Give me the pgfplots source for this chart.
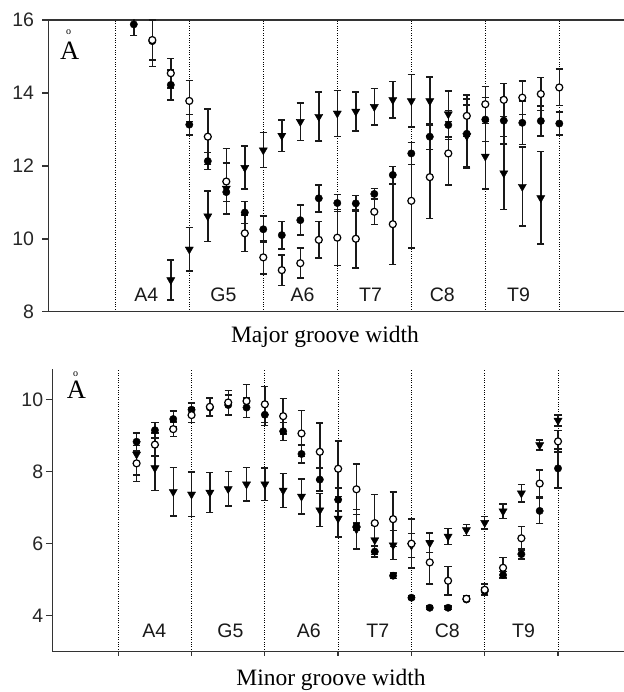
\documentclass[border=0pt]{standalone}
\usepackage{fontspec}
\setmainfont{Liberation Serif}
\setsansfont{Liberation Sans}
\usepackage{pgfplots}
\pgfplotsset{compat=1.18}
\usepackage{pgfplotstable}

% ---------- Major groove width ----------
\pgfplotstableread{
x y e
1.75 8.87 0.55
2.00 9.71 0.60
2.25 10.62 0.69
2.50 11.38 0.70
2.75 11.95 0.59
3.00 12.43 0.48
3.25 12.83 0.43
3.50 13.21 0.51
3.75 13.35 0.67
4.00 13.44 0.63
4.25 13.49 0.53
4.50 13.62 0.50
4.75 13.81 0.50
5.00 13.78 0.72
5.25 13.78 0.66
5.50 13.42 0.63
5.75 12.82 0.85
6.00 12.26 0.90
6.25 11.80 1.00
6.50 11.43 1.08
6.75 11.12 1.27
}\majtri
\pgfplotstableread{
x y e
1.25 15.88 0.30
1.50 15.42 0.70
1.75 14.22 0.41
2.00 13.13 0.28
2.25 12.13 0.23
2.50 11.28 0.26
2.75 10.72 0.30
3.00 10.26 0.36
3.25 10.10 0.38
3.50 10.51 0.41
3.75 11.11 0.37
4.00 10.98 0.23
4.25 10.97 0.21
4.50 11.23 0.15
4.75 11.75 0.23
5.00 12.34 0.30
5.25 12.80 0.35
5.50 13.12 0.40
5.75 12.88 0.95
6.00 13.27 0.60
6.25 13.24 0.64
6.50 13.18 0.60
6.75 13.23 0.41
7.00 13.16 0.31
}\majfill
\pgfplotstableread{
x y e
1.50 15.45 0.55
1.75 14.54 0.41
2.00 13.78 0.56
2.25 12.80 0.76
2.50 11.57 0.90
2.75 10.15 0.50
3.00 9.49 0.45
3.25 9.14 0.42
3.50 9.33 0.41
3.75 9.97 0.50
4.00 10.03 0.77
4.25 10.00 0.80
4.50 10.74 0.35
4.75 10.40 1.10
5.00 11.04 1.30
5.25 11.69 1.13
5.50 12.34 0.87
5.75 13.37 0.57
6.00 13.69 0.48
6.25 13.81 0.45
6.50 13.87 0.46
6.75 13.97 0.45
7.00 14.15 0.50
}\majopen

% ---------- Minor groove width ----------
\pgfplotstableread{
x y e
1.25 8.48 0.58
1.50 8.10 0.62
1.75 7.44 0.67
2.00 7.37 0.62
2.25 7.42 0.55
2.50 7.52 0.48
2.75 7.65 0.47
3.00 7.65 0.45
3.25 7.48 0.47
3.50 7.31 0.48
3.75 6.93 0.46
4.00 6.70 0.52
4.25 6.40 0.55
4.50 6.10 0.40
4.75 5.96 0.40
5.00 5.95 0.33
5.25 6.02 0.27
5.50 6.20 0.22
5.75 6.38 0.15
6.00 6.58 0.17
6.25 6.90 0.20
6.50 7.40 0.24
6.75 8.74 0.14
7.00 9.42 0.15
}\mintri
\pgfplotstableread{
x y e
1.25 8.83 0.26
1.50 9.15 0.22
1.75 9.46 0.22
2.00 9.72 0.18
2.25 9.78 0.25
2.50 9.85 0.28
2.75 9.78 0.27
3.00 9.58 0.30
3.25 9.12 0.25
3.50 8.49 0.25
3.75 7.78 0.32
4.00 7.22 0.32
4.25 6.48 0.10
4.50 5.78 0.15
4.75 5.11 0.08
5.00 4.50 0.05
5.25 4.22 0.05
5.50 4.22 0.05
5.75 4.45 0.06
6.00 4.68 0.10
6.25 5.13 0.10
6.50 5.71 0.14
6.75 6.91 0.35
7.00 8.09 0.54
}\minfill
\pgfplotstableread{
x y e
1.25 8.23 0.50
1.50 8.75 0.32
1.75 9.18 0.20
2.00 9.57 0.20
2.25 9.80 0.24
2.50 9.92 0.33
2.75 9.96 0.46
3.00 9.87 0.50
3.25 9.54 0.49
3.50 9.06 0.64
3.75 8.55 0.80
4.00 8.08 0.77
4.25 7.51 0.70
4.50 6.57 0.80
4.75 6.68 0.76
5.00 6.00 0.68
5.25 5.48 0.60
5.50 4.97 0.40
5.75 4.47 0.08
6.00 4.72 0.16
6.25 5.33 0.28
6.50 6.15 0.32
6.75 7.67 0.37
7.00 8.84 0.30
}\minopen

\tikzset{
  catlab/.style={font=\fontsize{19.5}{19.5}\selectfont\sffamily, anchor=base, inner sep=0pt, black!90},
}
\pgfplotsset{
  grooveaxis/.style={
    scale only axis, xmin=0.1, xmax=8,
    axis y line*=left,
    axis line style={line width=1.5pt, black!80},
    xtick={1,2,3,4,5,6,7}, xticklabels={},
    xmajorgrids, major grid style={dotted, line width=0.9pt, black},
    tick align=outside,
    ytick style={line width=1.5pt, black!80},
    major tick length=6.5pt,
    tick label style={font=\fontsize{19.5}{19.5}\selectfont\sffamily, black!85},
    /pgf/number format/assume math mode=true,
  },
  ebars/.style={error bars/.cd, y dir=both, y explicit,
    error bar style={line width=1.4pt, black!90},
    error mark options={rotate=90, line width=1.5pt, mark size=3.6pt, black!90}},
  tri/.style={only marks, mark=triangle*, mark size=4.7pt,
    mark options={fill=black, draw=black, rotate=180}, ebars},
  fil/.style={only marks, mark=*, mark size=3.7pt,
    mark options={fill=black, draw=black}, ebars},
  opn/.style={only marks, mark=*, mark size=3.5pt,
    mark options={fill=white, draw=black, line width=1.2pt}, ebars},
}

\begin{document}
\begin{tikzpicture}
\path[use as bounding box] (0,0) rectangle (623pt,692pt);

% ===== top panel =====
\begin{axis}[grooveaxis,
  at={(48.7pt,380.3pt)}, anchor=south west,
  width=584.6pt, height=291.7pt,
  ymin=8, ymax=16, ytick={8,10,12,14,16},
  yticklabel style={inner sep=0pt, xshift=-8pt},
  axis x line*=box, xtick style={draw=none},
]
\addplot+[tri] table[x=x, y=y, y error=e] {\majtri};
\addplot+[fil] table[x=x, y=y, y error=e] {\majfill};
\addplot+[opn] table[x=x, y=y, y error=e] {\majopen};
\node[catlab] at (axis cs:1.42,8.27) {A4};
\node[catlab] at (axis cs:2.46,8.27) {G5};
\node[catlab] at (axis cs:3.53,8.27) {A6};
\node[catlab] at (axis cs:4.45,8.27) {T7};
\node[catlab] at (axis cs:5.42,8.27) {C8};
\node[catlab] at (axis cs:6.45,8.27) {T9};
\end{axis}

% ===== bottom panel =====
\begin{axis}[grooveaxis,
  at={(52.3pt,40.3pt)}, anchor=south west,
  width=579pt, height=282.7pt,
  ymin=3, ymax=10.85, ytick={4,6,8,10},
  yticklabel style={inner sep=0pt, xshift=-2.5pt},
  axis x line*=bottom,
  xtick style={line width=1.3pt, black!80, /pgfplots/major tick length=4pt},
]
\addplot+[tri] table[x=x, y=y, y error=e] {\mintri};
\addplot+[fil] table[x=x, y=y, y error=e] {\minfill};
\addplot+[opn] table[x=x, y=y, y error=e] {\minopen};
\node[catlab] at (axis cs:1.49,3.40) {A4};
\node[catlab] at (axis cs:2.53,3.40) {G5};
\node[catlab] at (axis cs:3.60,3.40) {A6};
\node[catlab] at (axis cs:4.54,3.40) {T7};
\node[catlab] at (axis cs:5.49,3.40) {C8};
\node[catlab] at (axis cs:6.53,3.40) {T9};
\end{axis}

% titles and unit labels (A with a detached ring, as in the figure)
\node[anchor=base, inner sep=0pt, font=\fontsize{23.5}{23.5}\selectfont] at (325pt,349.3pt) {Major groove width};
\node[anchor=base, inner sep=0pt, font=\fontsize{23.5}{23.5}\selectfont] at (331pt,6.3pt) {Minor groove width};
\node[anchor=base west, inner sep=0pt, font=\fontsize{26.5}{26.5}\selectfont] at (60pt,632.7pt) {A};
\node[anchor=center, inner sep=0pt, font=\fontsize{10}{10}\selectfont] at (68.5pt,659.3pt) {o};
\node[anchor=base west, inner sep=0pt, font=\fontsize{26.5}{26.5}\selectfont] at (66.7pt,293pt) {A};
\node[anchor=center, inner sep=0pt, font=\fontsize{10}{10}\selectfont] at (75.5pt,318.3pt) {o};
\end{tikzpicture}
\end{document}
